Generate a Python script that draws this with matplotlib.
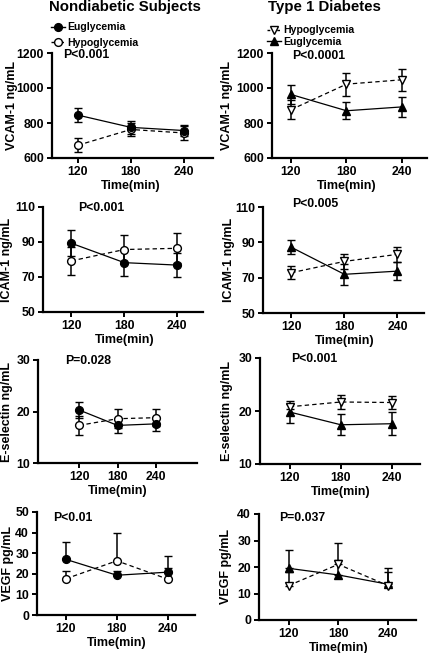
import matplotlib
matplotlib.use("Agg")
import matplotlib.pyplot as plt
from matplotlib.lines import Line2D

plt.rcParams['font.family'] = ['Liberation Sans', 'DejaVu Sans']
plt.rcParams['font.weight'] = 'bold'

W, H = 429, 653

times = [120, 180, 240]
xtick_labels = ["120", "180", "240"]

# Nondiabetic subjects
vcam_nd_eu = [845, 775, 757]
vcam_nd_eu_err = [42, 36, 34]
vcam_nd_hypo = [673, 763, 743]
vcam_nd_hypo_err = [40, 35, 38]

icam_nd_eu = [89.3, 78.2, 76.8]
icam_nd_eu_err = [7.5, 7.6, 7.0]
icam_nd_hypo = [79.2, 85.7, 86.4]
icam_nd_hypo_err = [7.8, 8.3, 8.5]

esel_nd_eu = [20.3, 17.3, 17.6]
esel_nd_eu_err = [1.6, 1.4, 1.4]
esel_nd_hypo = [17.3, 18.6, 18.8]
esel_nd_hypo_err = [1.9, 1.8, 1.6]

vegf_nd_eu = [27.0, 19.3, 20.8]
vegf_nd_eu_err = [8.5, 2.0, 7.6]
vegf_nd_hypo = [17.6, 26.3, 17.4]
vegf_nd_hypo_err = [4.0, 13.3, 5.5]

# Type 1 diabetes
vcam_t1_hypo = [876, 1022, 1047]
vcam_t1_hypo_err = [55, 65, 63]
vcam_t1_eu = [963, 870, 892]
vcam_t1_eu_err = [52, 48, 55]

icam_t1_hypo = [72.8, 79.2, 83.2]
icam_t1_hypo_err = [3.6, 4.2, 4.4]
icam_t1_eu = [87.2, 71.9, 73.7]
icam_t1_eu_err = [4.0, 5.8, 5.0]

esel_t1_hypo = [20.8, 21.7, 21.6]
esel_t1_hypo_err = [0.5, 1.4, 1.3]
esel_t1_eu = [19.8, 17.4, 17.6]
esel_t1_eu_err = [2.0, 2.0, 2.2]

vegf_t1_hypo = [13.0, 21.0, 13.0]
vegf_t1_hypo_err = [5.0, 8.0, 5.0]
vegf_t1_eu = [19.5, 17.0, 13.5]
vegf_t1_eu_err = [7.0, 5.5, 6.0]

fig = plt.figure(figsize=(W / 100, H / 100), dpi=100)


def add_ax(x0, y0, x1, y1):
    return fig.add_axes([x0 / W, 1 - y1 / H, (x1 - x0) / W, (y1 - y0) / H])


def style(ax, ylim, yticks, xlim, ylabel, ylab_px, x0):
    ax.set_xlim(*xlim)
    ax.set_ylim(*ylim)
    ax.set_yticks(yticks)
    ax.set_xticks(times)
    ax.set_xticklabels(xtick_labels)
    for s in ['top', 'right']:
        ax.spines[s].set_visible(False)
    for s in ['left', 'bottom']:
        ax.spines[s].set_linewidth(1.6)
    ax.tick_params(direction='out', length=3.5, width=1.4, labelsize=8.8, pad=2.2)
    for lab in ax.get_xticklabels() + ax.get_yticklabels():
        lab.set_fontweight('bold')
    ax.set_ylabel(ylabel, fontsize=9, fontweight='bold')
    ax.yaxis.label.set_verticalalignment('center')
    w = ax.get_position().width * W
    ax.yaxis.set_label_coords((ylab_px - x0) / w, 0.5)
    ax.annotate("Time(min)", xy=(180, 0), xycoords=('data', 'axes fraction'),
                xytext=(0, -16), textcoords='offset points', ha='center', va='top',
                fontsize=9, fontweight='bold')


def series(ax, y, err, marker, filled, dashed, one_sided=False):
    yerr = [[0] * len(err), err] if one_sided else err
    ax.errorbar(times, y, yerr=yerr, color='black', marker=marker, markersize=5.6,
                markerfacecolor='black' if filled else 'white', markeredgecolor='black',
                markeredgewidth=1.0, linestyle=(0, (3.5, 2.5)) if dashed else '-',
                linewidth=0.9, elinewidth=1.1, capsize=2.8, capthick=1.1, zorder=3)


def ptext(x, y, s):
    fig.text(x / W, 1 - y / H, s, ha='left', va='center', fontsize=8.8, fontweight='bold')


# ---- Left column: Nondiabetic ----
ax = add_ax(52, 53, 213, 158)
series(ax, vcam_nd_hypo, vcam_nd_hypo_err, 'o', False, True)
series(ax, vcam_nd_eu, vcam_nd_eu_err, 'o', True, False)
style(ax, (600, 1200), [600, 800, 1000, 1200], (90.6, 273), "VCAM-1 ng/mL", 12, 52)
ptext(63, 55, "P<0.001")

ax = add_ax(43, 207, 203, 312)
series(ax, icam_nd_hypo, icam_nd_hypo_err, 'o', False, True)
series(ax, icam_nd_eu, icam_nd_eu_err, 'o', True, False)
style(ax, (50, 110), [50, 70, 90, 110], (88, 269), "ICAM-1 ng/mL", 7, 43)
ptext(78, 208, "P<0.001")

ax = add_ax(38, 360, 197, 463)
series(ax, esel_nd_hypo, esel_nd_hypo_err, 'o', False, True)
series(ax, esel_nd_eu, esel_nd_eu_err, 'o', True, False)
style(ax, (10, 30), [10, 20, 30], (56, 304), "E-selectin ng/mL", 7, 38)
ptext(65, 361, "P=0.028")

ax = add_ax(37, 512, 195, 615)
series(ax, vegf_nd_hypo, vegf_nd_hypo_err, 'o', False, True, one_sided=True)
series(ax, vegf_nd_eu, vegf_nd_eu_err, 'o', True, False, one_sided=True)
style(ax, (0, 50), [0, 10, 20, 30, 40, 50], (86, 272), "VEGF pg/mL", 8, 37)
ptext(53, 518, "P<0.01")

# ---- Right column: Type 1 diabetes ----
ax = add_ax(272, 53, 427, 158)
series(ax, vcam_t1_eu, vcam_t1_eu_err, '^', True, False)
series(ax, vcam_t1_hypo, vcam_t1_hypo_err, 'v', False, True)
style(ax, (600, 1200), [600, 800, 1000, 1200], (99.5, 267), "VCAM-1 ng/mL", 227, 272)
ptext(292, 56, "P<0.0001")

ax = add_ax(263, 207, 424, 313)
series(ax, icam_t1_eu, icam_t1_eu_err, '^', True, False)
series(ax, icam_t1_hypo, icam_t1_hypo_err, 'v', False, True)
style(ax, (50, 110), [50, 70, 90, 110], (88, 270), "ICAM-1 ng/mL", 229, 263)
ptext(292, 204, "P<0.005")

ax = add_ax(260, 358, 420, 464)
series(ax, esel_t1_eu, esel_t1_eu_err, '^', True, False)
series(ax, esel_t1_hypo, esel_t1_hypo_err, 'v', False, True)
style(ax, (10, 30), [10, 20, 30], (85, 273), "E-selectin ng/mL", 227, 260)
ptext(291, 359, "P<0.001")

ax = add_ax(259, 514, 416, 620)
series(ax, vegf_t1_eu, vegf_t1_eu_err, '^', True, False, one_sided=True)
series(ax, vegf_t1_hypo, vegf_t1_hypo_err, 'v', False, True, one_sided=True)
style(ax, (0, 40), [0, 10, 20, 30, 40], (84, 274), "VEGF pg/mL", 226, 259)
ptext(279, 518, "P=0.037")

# ---- Titles ----
fig.text(125 / W, 1 - 7 / H, "Nondiabetic Subjects", ha='center', va='center',
         fontsize=10.8, fontweight='bold')
fig.text(324 / W, 1 - 7 / H, "Type 1 Diabetes", ha='center', va='center',
         fontsize=10.8, fontweight='bold')

# ---- Legends ----
def leg_handle(marker, filled, dashed):
    return Line2D([0], [0], color='black', marker=marker, markersize=5.6,
                  markerfacecolor='black' if filled else 'white', markeredgecolor='black',
                  linestyle=(0, (2, 1.5)) if dashed else '-', linewidth=1.0)

h_nd = [leg_handle('o', True, False), leg_handle('o', False, True)]
fig.legend(h_nd, ["Euglycemia", "Hypoglycemia"], loc='upper left',
           bbox_to_anchor=(46 / W, 1 - 17 / H), frameon=False,
           handlelength=1.3, handletextpad=0.25, labelspacing=0.5, borderpad=0,
           prop={'weight': 'bold', 'size': 7.6})

h_t1 = [leg_handle('v', False, True), leg_handle('^', True, False)]
fig.legend(h_t1, ["Hypoglycemia", "Euglycemia"], loc='upper left',
           bbox_to_anchor=(262 / W, 1 - 20 / H), frameon=False,
           handlelength=1.3, handletextpad=0.25, labelspacing=0.15, borderpad=0,
           prop={'weight': 'bold', 'size': 7.6})

fig.savefig("out.png", dpi=100)
